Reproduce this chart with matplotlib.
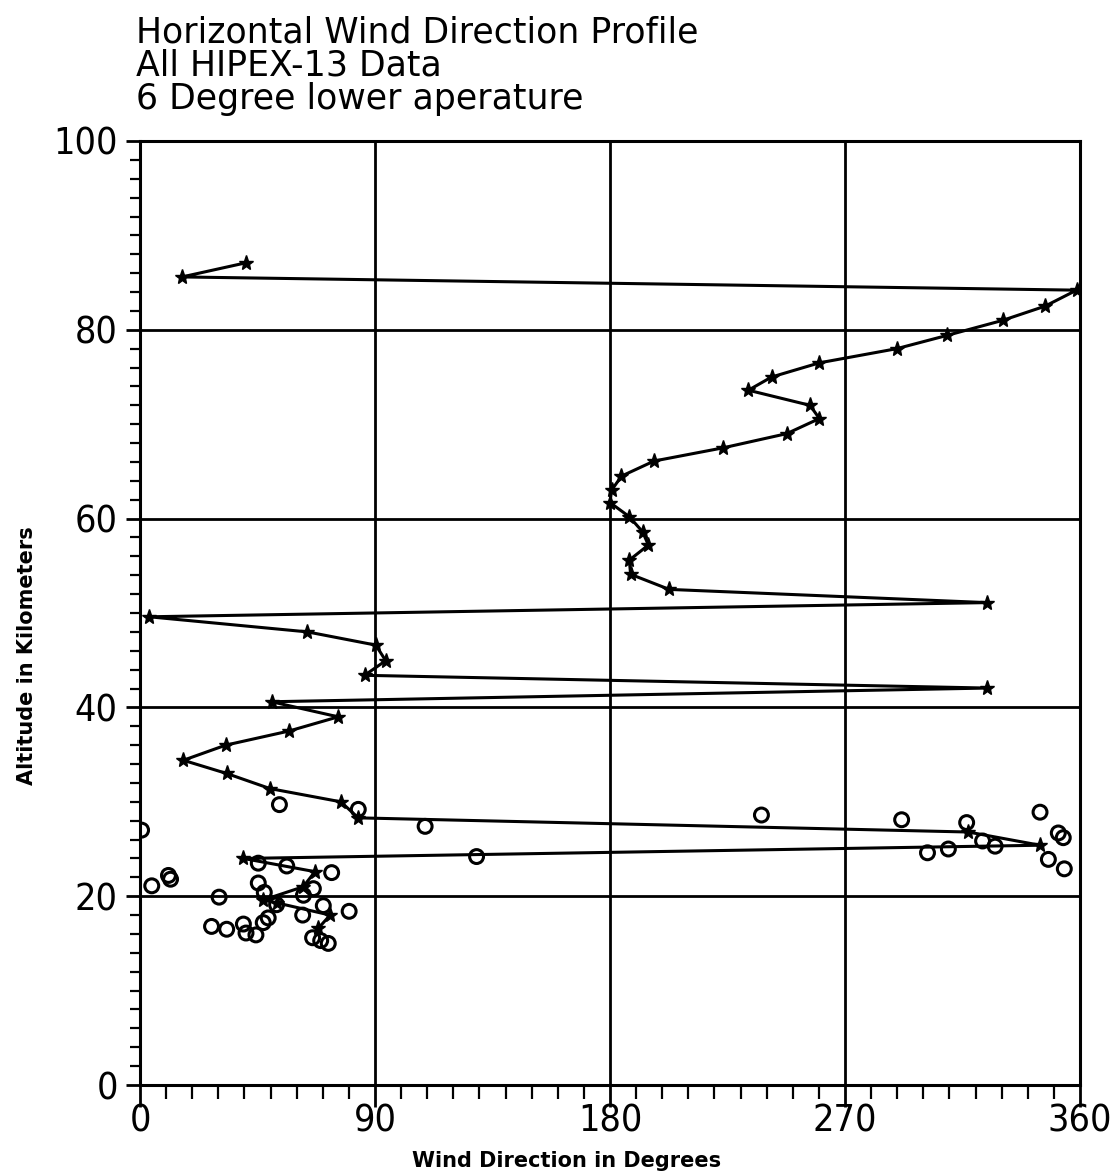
import matplotlib
matplotlib.use("Agg")
import matplotlib.pyplot as plt
from matplotlib.ticker import MultipleLocator

# Profile line (star markers), from top to bottom
line_dir = [40.6, 16.1, 358.7, 346.6, 330.4, 309.0, 289.8, 260.2, 241.9, 233.0,
            256.6, 260.2, 247.7, 223.4, 196.9, 184.4, 180.6, 180.0, 187.4, 192.5,
            194.7, 187.4, 187.9, 202.7, 324.4, 3.5, 64.1, 90.3, 94.1, 86.0,
            324.4, 50.4, 75.9, 57.1, 32.8, 16.6, 33.2, 49.8, 76.9, 83.6,
            317.2, 344.7, 39.6, 67.0, 62.5, 47.2, 52.3, 72.8, 68.3]
line_alt = [87.1, 85.6, 84.2, 82.5, 81.0, 79.4, 78.0, 76.5, 75.0, 73.6,
            72.0, 70.6, 69.0, 67.5, 66.1, 64.5, 63.0, 61.7, 60.2, 58.6,
            57.2, 55.6, 54.1, 52.5, 51.1, 49.6, 48.0, 46.6, 44.95, 43.4,
            42.05, 40.6, 39.0, 37.5, 36.0, 34.4, 33.0, 31.4, 30.0, 28.3,
            26.8, 25.4, 24.0, 22.6, 21.0, 19.6, 19.3, 18.0, 16.6]

# Open-circle observations
pt_dir = [53.4, 83.6, 0.6, 109.2, 128.9, 45.3, 56.2, 73.4, 4.5, 10.9,
          11.7, 45.3, 47.6, 30.3, 66.4, 62.6, 52.3, 70.2, 80.1, 62.3,
          49.1, 47.2, 27.4, 33.2, 39.6, 40.6, 44.4, 66.1, 69.2, 72.1,
          238.0, 291.7, 316.6, 344.7, 351.7, 353.6, 322.7, 327.5, 309.6, 301.6,
          347.9, 354.0]
pt_alt = [29.7, 29.2, 27.0, 27.4, 24.2, 23.5, 23.2, 22.5, 21.1, 22.2,
          21.8, 21.4, 20.4, 19.9, 20.8, 20.1, 19.1, 19.0, 18.4, 18.0,
          17.7, 17.2, 16.8, 16.5, 17.05, 16.1, 15.9, 15.6, 15.3, 15.0,
          28.6, 28.1, 27.8, 28.9, 26.7, 26.2, 25.85, 25.3, 25.0, 24.6,
          23.9, 22.9]

x_ticks = [0, 90, 180, 270, 360]
y_ticks = [0, 20, 40, 60, 80, 100]
title_lines = ["Horizontal Wind Direction Profile",
               "All HIPEX-13 Data",
               "6 Degree lower aperature"]

fig = plt.figure(figsize=(11.12, 11.74), dpi=100)
ax = fig.add_axes([0.1259, 0.0758, 0.8453, 0.8041])

ax.set_xlim(0, 360)
ax.set_ylim(0, 100)

ax.set_xticks(x_ticks)
ax.set_yticks(y_ticks)
ax.xaxis.set_minor_locator(MultipleLocator(10))
ax.yaxis.set_minor_locator(MultipleLocator(2))
ax.grid(True, which="major", color="black", linewidth=2)
ax.set_axisbelow(True)

ax.tick_params(axis="x", which="major", direction="out", length=16, width=2, pad=-3)
ax.tick_params(axis="x", which="minor", direction="out", length=10, width=1.6)
ax.tick_params(axis="y", which="major", direction="out", length=10, width=2, pad=6)
ax.tick_params(axis="y", which="minor", direction="out", length=7, width=1.6)
for lab in ax.get_xticklabels() + ax.get_yticklabels():
    lab.set_fontfamily("DejaVu Sans")
    lab.set_fontstretch("condensed")
    lab.set_fontsize(27)
for s in ax.spines.values():
    s.set_linewidth(2.2)

ax.plot(line_dir, line_alt, color="black", linewidth=2.2, marker="*",
        markersize=11, markerfacecolor="black", zorder=3)
ax.scatter(pt_dir, pt_alt, s=100, facecolors="none", edgecolors="black",
           linewidths=2.2, zorder=4)

ax.set_xlabel("Wind Direction in Degrees", fontsize=15, fontweight="bold")
ax.xaxis.set_label_coords(0.454, -0.07)
ax.set_ylabel("Altitude in Kilometers", fontsize=15, fontweight="bold")
ax.yaxis.set_label_coords(-0.11, 0.455)

for i, t in enumerate(title_lines):
    fig.text(0.122, 0.987 - i * 0.0283, t, fontsize=25, ha="left", va="top")

fig.savefig("out.png", dpi=100)
